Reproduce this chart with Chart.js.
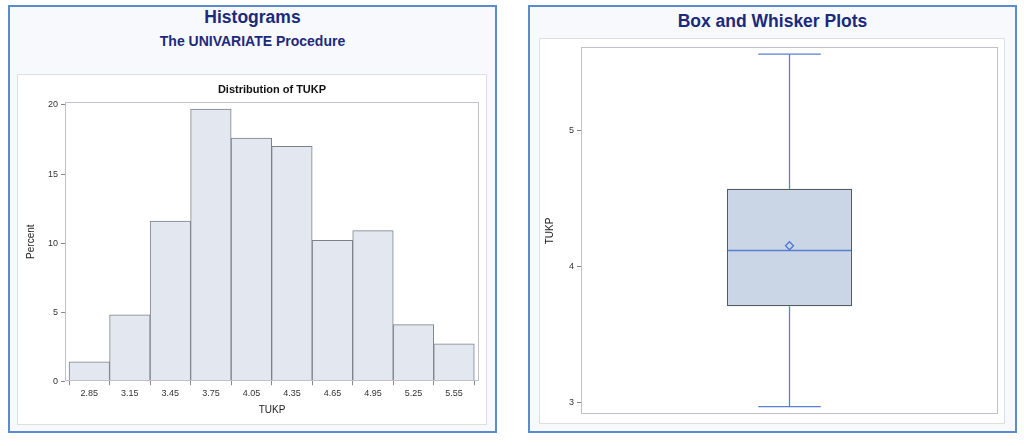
<!DOCTYPE html>
<html>
<head>
<meta charset="utf-8">
<script src="https://cdn.jsdelivr.net/npm/chart.js@4.4.1/dist/chart.umd.min.js"></script>
<style>
  html,body{margin:0;padding:0;background:#fff;width:1024px;height:446px;overflow:hidden;font-family:"Liberation Sans",Arial,sans-serif;}
  .outer{position:absolute;box-sizing:border-box;border:2px solid #5b8ad0;background:#f7f9fd;}
  .inner{position:absolute;box-sizing:border-box;border:1px solid #dcdfe4;background:#fff;}
  .t{position:absolute;left:0;right:0;text-align:center;color:#1c2a7c;font-weight:bold;white-space:nowrap;}
  canvas{position:absolute;left:0;top:0;}
</style>
</head>
<body>
<div class="outer" style="left:8px;top:5px;width:489px;height:428px;">
  <div class="t" style="top:0px;font-size:17.5px;">Histograms</div>
  <div class="t" style="top:26px;font-size:14px;">The UNIVARIATE Procedure</div>
</div>
<div class="inner" style="left:17px;top:74px;width:470px;height:351px;"><canvas id="hist"></canvas></div>

<div class="outer" style="left:528px;top:5px;width:489px;height:428px;">
  <div class="t" style="top:4px;font-size:17.5px;">Box and Whisker Plots</div>
</div>
<div class="inner" style="left:539px;top:38px;width:466px;height:386px;"><canvas id="box"></canvas></div>

<script>
// ---- Histogram data ----
const binCenters = [2.85, 3.15, 3.45, 3.75, 4.05, 4.35, 4.65, 4.95, 5.25, 5.55];
const binPercents = [1.4, 4.8, 11.6, 19.7, 17.6, 17.0, 10.2, 10.9, 4.1, 2.7];
const percentTicks = [0, 5, 10, 15, 20];

// ---- Box plot data (TUKP) ----
const boxCategory = ['TUKP'];
const boxMin = [2.97];
const boxQ1 = [3.71];
const boxMedian = [4.12];
const boxMean = [4.155];
const boxQ3 = [4.575];
const boxMax = [5.565];
const tukpTicks = [3, 4, 5];

const tickFont = {family: '"Liberation Sans", Arial, sans-serif', size: 9};
const axisTitleFont = {family: '"Liberation Sans", Arial, sans-serif', size: 10};
const tickColor = '#333';
const frameColor = '#bfc3c9';

const frame = {
  id: 'frame',
  afterDraw(chart) {
    const a = chart.chartArea, c = chart.ctx;
    c.save();
    c.strokeStyle = frameColor; c.lineWidth = 1;
    c.strokeRect(Math.round(a.left)+0.5, Math.round(a.top)+0.5, Math.round(a.right-a.left)-1, Math.round(a.bottom-a.top)-1);
    c.restore();
  }
};

// ---- Histogram ----
const hc = document.getElementById('hist');
hc.width = 468; hc.height = 349;
new Chart(hc, {
  type: 'bar',
  data: {
    datasets: [{
      data: binCenters.map((x, i) => ({x: x, y: binPercents[i]})),
      backgroundColor: '#e3e7f0',
      borderColor: '#7d8189',
      borderWidth: 1,
      borderSkipped: false,
      barPercentage: 1,
      categoryPercentage: 1
    }]
  },
  options: {
    responsive: false, animation: false, devicePixelRatio: 1,
    layout: {padding: {top: 0, left: 7, right: 7, bottom: 0}},
    plugins: {
      legend: {display: false}, tooltip: {enabled: false},
      title: {display: true, text: 'Distribution of TUKP', color: '#111', fullSize: false,
        font: {family: '"Liberation Sans", Arial, sans-serif', size: 11, weight: 'bold'},
        padding: {top: 8, bottom: 6}}
    },
    scales: {
      x: {
        type: 'linear', min: 2.67, max: 5.735, offset: false,
        afterBuildTicks: s => { s.ticks = binCenters.map(v => ({value: v})); },
        ticks: {font: tickFont, color: tickColor, callback: v => v.toFixed(2), maxRotation: 0, padding: 3},
        grid: {drawOnChartArea: false, drawTicks: true, tickLength: 4, color: '#888'},
        border: {display: false},
        title: {display: true, text: 'TUKP', font: axisTitleFont, color: '#222', padding: {top: 2, bottom: 8}}
      },
      y: {
        min: 0, max: 20.2,
        afterBuildTicks: s => { s.ticks = percentTicks.map(v => ({value: v})); },
        ticks: {font: tickFont, color: tickColor, padding: 3},
        grid: {drawOnChartArea: false, drawTicks: true, tickLength: 4, color: '#888'},
        border: {display: false},
        title: {display: true, text: 'Percent', font: axisTitleFont, color: '#222', padding: {top: 0, bottom: 8}}
      }
    }
  },
  plugins: [frame]
});

// ---- Box plot ----
const whiskers = {
  id: 'whiskers',
  beforeDatasetsDraw(chart) {
    const y = chart.scales.y, c = chart.ctx;
    const bar = chart.getDatasetMeta(0).data[0];
    const cx = bar.x, half = bar.width / 4;
    c.save();
    c.strokeStyle = '#5a7fd2'; c.lineWidth = 1.3;
    c.beginPath();
    c.moveTo(cx, y.getPixelForValue(boxQ3[0])); c.lineTo(cx, y.getPixelForValue(boxMax[0]));
    c.moveTo(cx, y.getPixelForValue(boxQ1[0])); c.lineTo(cx, y.getPixelForValue(boxMin[0]));
    c.moveTo(cx - half, y.getPixelForValue(boxMax[0])); c.lineTo(cx + half, y.getPixelForValue(boxMax[0]));
    c.moveTo(cx - half, y.getPixelForValue(boxMin[0])); c.lineTo(cx + half, y.getPixelForValue(boxMin[0]));
    c.stroke();
    c.restore();
  },
  afterDatasetDraw(chart, args) {
    if (args.index !== 0) return;
    const y = chart.scales.y, c = chart.ctx;
    const bar = chart.getDatasetMeta(0).data[0];
    const l = bar.x - bar.width / 2, r = bar.x + bar.width / 2;
    c.save();
    c.strokeStyle = '#5a7fd2'; c.lineWidth = 1.3;
    c.beginPath();
    const my = y.getPixelForValue(boxMedian[0]);
    c.moveTo(l + 1, my); c.lineTo(r - 1, my);
    c.stroke();
    c.restore();
  }
};

const bc = document.getElementById('box');
bc.width = 464; bc.height = 384;
new Chart(bc, {
  type: 'bar',
  data: {
    labels: boxCategory,
    datasets: [{
      type: 'bar',
      data: boxQ1.map((q, i) => [q, boxQ3[i]]),
      backgroundColor: '#cad5e6',
      borderColor: '#555a60',
      borderWidth: 1.2,
      borderSkipped: false,
      barPercentage: 0.3,
      categoryPercentage: 1,
      order: 2
    }, {
      type: 'line',
      data: boxMean,
      showLine: false,
      pointStyle: 'rectRot',
      pointRadius: 4,
      borderColor: '#4f78d0',
      borderWidth: 1.3,
      backgroundColor: 'rgba(202,213,230,0)',
      order: 1
    }]
  },
  options: {
    responsive: false, animation: false, devicePixelRatio: 1,
    layout: {padding: {top: 8, left: 4, right: 6, bottom: 6}},
    plugins: {legend: {display: false}, tooltip: {enabled: false}},
    scales: {
      x: {display: false, offset: true},
      y: {
        min: 2.912, max: 5.615,
        afterBuildTicks: s => { s.ticks = tukpTicks.map(v => ({value: v})); },
        ticks: {font: tickFont, color: tickColor, padding: 3},
        grid: {drawOnChartArea: false, drawTicks: true, tickLength: 4, color: '#888'},
        border: {display: false},
        title: {display: true, text: 'TUKP', font: axisTitleFont, color: '#222', padding: {top: 0, bottom: 10}}
      }
    }
  },
  plugins: [frame, whiskers]
});
</script>
</body>
</html>
